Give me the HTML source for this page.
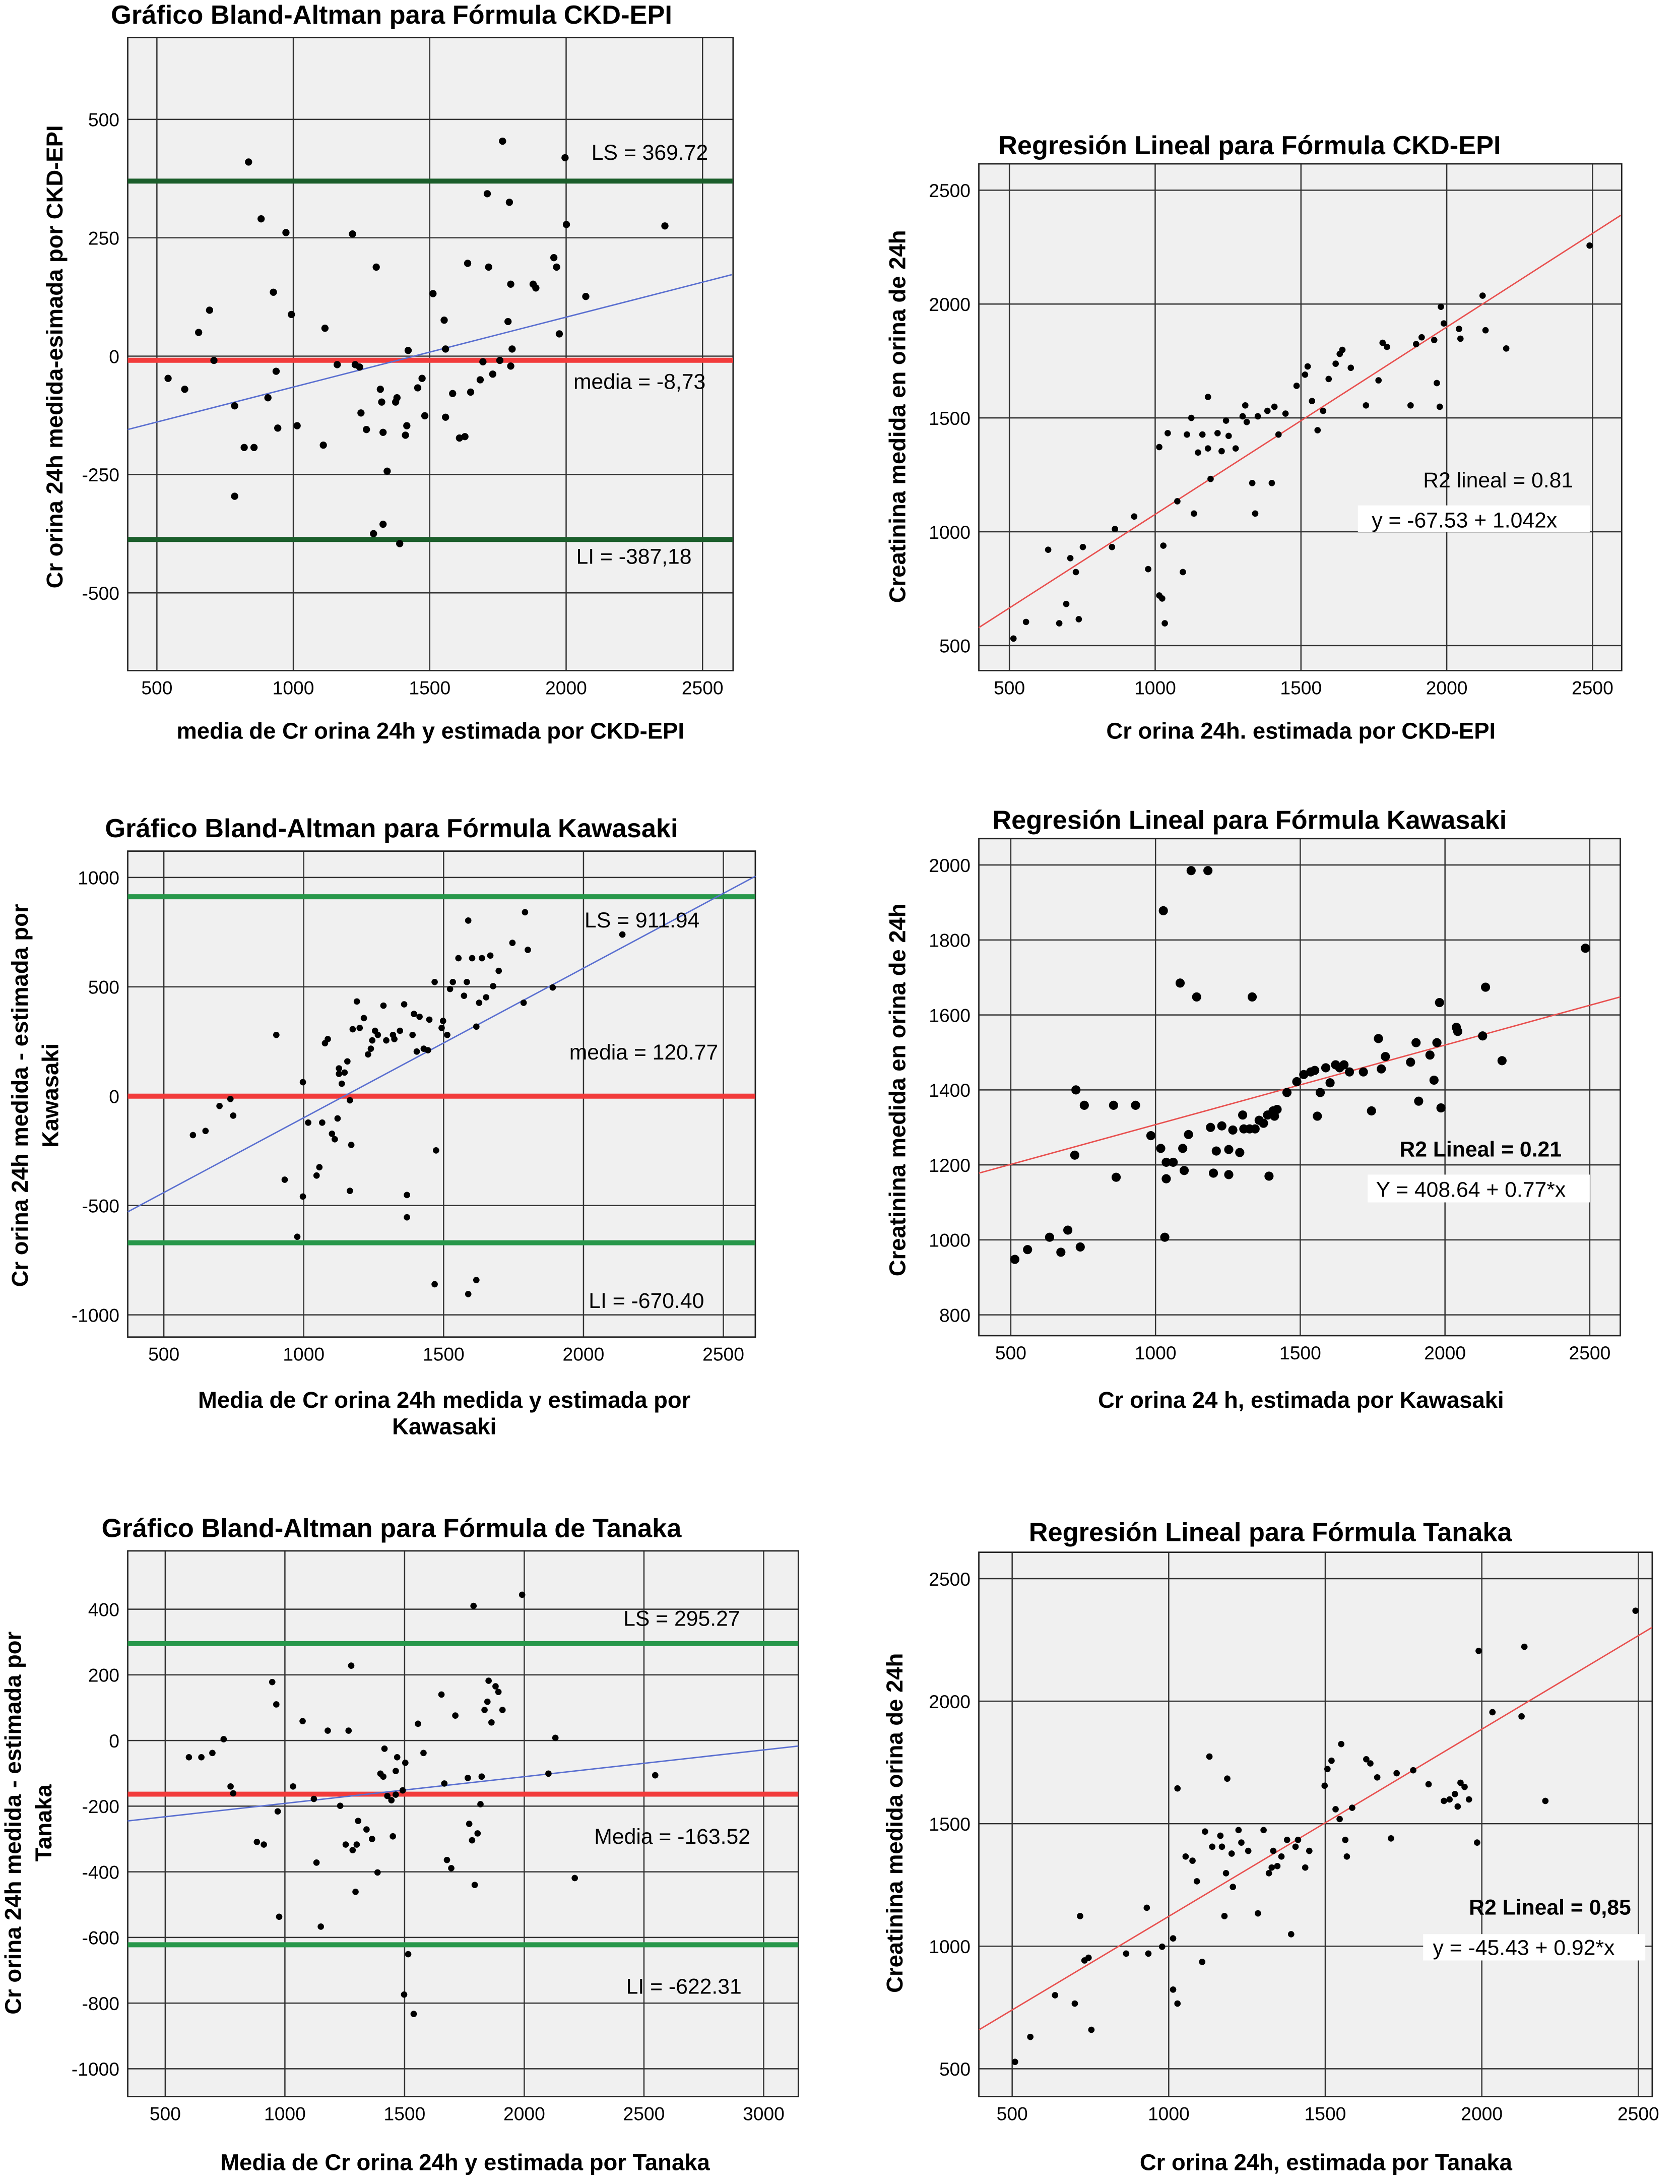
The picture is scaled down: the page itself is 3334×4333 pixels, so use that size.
<!DOCTYPE html>
<html><head><meta charset="utf-8">
<style>
html,body{margin:0;padding:0;background:#fff;}
svg{display:block;}
text{font-family:"Liberation Sans",Arial,sans-serif;fill:#000;}
</style></head>
<body>
<svg id="fig" xmlns="http://www.w3.org/2000/svg" width="3334" height="4333" viewBox="0 0 1210 1573" preserveAspectRatio="none"></svg>
<script>
// ---------- Panel 1: Bland-Altman CKD-EPI ----------
const ckdBaX=[541,602,653,693,709,785,836,820,856,882,907,927,937,943,973,993,1014,785,1110,1116,1217,1227,1243,1248,1268,1304,1319,1324,1294,1329,1344,1329,1375,1380,1390,1411,1416,1421,1456,1472,1482,1512,1553,1558,1558,1584,1609,1629,1639,1650,1685,1695,1711,1716,1731,1767,1792,1797,1797,1802,1879,1889,1955,1965,1975,1996,2001,2072,2362,1787,1757,1161];
const ckdBaY=[-47,-70,50,97,-9,-105,410,-193,-193,290,-88,135,-32,-152,261,88,-147,-296,-188,59,258,-18,-23,-120,-155,188,-70,-97,-375,-161,-243,-355,-97,-88,-396,-167,-147,12,-67,-47,-126,132,76,15,-129,-79,-173,-170,196,-76,-50,-12,343,188,-38,454,325,152,-21,15,152,144,208,188,47,419,278,126,275,73,-9,-18];
const ckdBaRef=[369.72,-8.73,-387.18];
const ckdBaFitX=[393,2607], ckdBaFitY=[-155,172];
const ckdBaXTicks=[500,1000,1500,2000,2500], ckdBaYTicks=[500,250,0,-250,-500];

// ---------- Panel 2: Regression CKD-EPI ----------
const ckdRegX=[514,557,633,671,695,709,728,738,752,852,862,928,976,1014,1024,1028,1033,1014,1043,1076,1095,1109,1124,1133,1147,1162,1181,1181,1190,1214,1228,1243,1252,1276,1300,1309,1314,1333,1343,1352,1385,1400,1409,1423,1447,1485,1514,1523,1538,1557,1576,1595,1619,1633,1642,1671,1723,1766,1780,1795,1876,1895,1914,1957,1966,1976,1980,1990,2042,2047,2123,2133,2204,2490];
const ckdRegY=[531,604,921,598,683,884,823,616,933,933,1012,1067,836,1372,707,939,598,720,1433,1134,823,1427,1500,1080,1348,1427,1592,1366,1232,1433,1354,1488,1421,1366,1507,1555,1482,1214,1080,1507,1531,1214,1549,1427,1519,1641,1690,1726,1574,1446,1531,1671,1738,1781,1799,1720,1555,1665,1830,1812,1555,1824,1854,1842,1653,1549,1988,1915,1891,1848,2037,1885,1805,2257];
const ckdRegFitX=[395,2597], ckdRegFitY=[579,2390];
const ckdRegXTicks=[500,1000,1500,2000,2500], ckdRegYTicks=[2500,2000,1500,1000,500];

// ---------- Panel 3: Bland-Altman Kawasaki ----------
const kawBaX=[604,649,699,738,748,902,932,977,997,997,1016,1046,1056,1066,1076,1086,1101,1111,1121,1126,1126,1136,1146,1156,1165,1165,1170,1175,1190,1200,1215,1230,1240,1245,1255,1265,1285,1295,1319,1324,1344,1359,1369,1369,1389,1394,1404,1414,1429,1444,1449,1468,1473,1493,1498,1513,1523,1533,1553,1573,1583,1588,1602,1617,1627,1637,1652,1667,1677,1697,1746,1786,1791,1801,1890,2139,1468,1617,1588];
const kawBaY=[-178,-159,-45,-13,-89,280,-382,-643,64,-459,-121,-363,-325,-121,242,261,-172,-197,-102,102,127,57,108,159,-433,-19,-223,306,433,312,357,191,217,255,299,280,414,255,280,261,299,420,-452,-554,280,376,204,363,217,210,350,522,-248,312,344,280,490,522,631,459,522,803,631,318,427,631,452,643,503,573,701,427,841,669,497,739,-860,-841,-905];
const kawBaRef=[911.94,0,-670.40];
const kawBaFitX=[371,2615], kawBaFitY=[-529,1006];
const kawBaXTicks=[500,1000,1500,2000,2500], kawBaYTicks=[1000,500,0,-500,-1000];

// ---------- Panel 4: Regression Kawasaki ----------
const kawRegX=[514,558,634,673,697,721,725,740,754,855,864,931,984,1018,1027,1032,1037,1037,1061,1085,1094,1099,1114,1123,1142,1181,1190,1200,1210,1229,1253,1253,1267,1291,1301,1305,1325,1334,1344,1358,1373,1387,1392,1406,1411,1420,1454,1488,1512,1536,1550,1559,1569,1588,1603,1622,1636,1651,1670,1718,1746,1770,1780,1794,1881,1900,1909,1948,1962,1972,1981,1986,2039,2044,2130,2140,2197,2485];
const kawRegY=[948,974,1007,967,1026,1226,1400,981,1359,1359,1167,1359,1278,1244,1878,1007,1163,1207,1207,1685,1244,1185,1281,1985,1648,1985,1300,1178,1237,1304,1174,1241,1293,1233,1333,1296,1296,1648,1296,1319,1311,1333,1170,1344,1330,1348,1393,1422,1441,1448,1452,1330,1393,1459,1419,1467,1459,1467,1448,1448,1344,1537,1456,1489,1474,1526,1370,1493,1426,1526,1633,1352,1567,1556,1544,1674,1478,1778];
const kawRegFitX=[390,2605], kawRegFitY=[1178,1648];
const kawRegXTicks=[500,1000,1500,2000,2500], kawRegYTicks=[2000,1800,1600,1400,1200,1000,800];

// ---------- Panel 5: Bland-Altman Tanaka ----------
const tanBaX=[599,651,697,744,773,784,883,912,947,964,976,970,1034,1074,1121,1132,1150,1179,1231,1254,1266,1277,1283,1295,1300,1306,1341,1364,1387,1399,1411,1416,1428,1445,1451,1463,1463,1469,1492,1498,1503,1515,1538,1556,1579,1654,1666,1677,1695,1712,1764,1770,1782,1788,1805,1817,1822,1834,1846,1851,1863,1880,1892,1909,1991,2101,2130,2211,2547,1793];
const tanBaY=[-51,-51,-38,4,-140,-161,-309,-317,178,110,-537,-216,-140,59,-178,-372,-567,30,-199,-317,30,228,-334,-461,-317,-245,-271,-300,-402,-101,-110,-25,-169,-182,-292,-165,-93,-51,-152,-774,-68,-651,-833,51,-38,140,-131,-364,-389,76,-114,-254,-304,410,-283,-194,-110,93,118,182,55,165,148,93,444,-101,8,-419,-106,-440];
const tanBaRef=[295.27,-163.52,-622.31];
const tanBaFitX=[343,3145], tanBaFitY=[-245,-17];
const tanBaXTicks=[500,1000,1500,2000,2500,3000], tanBaYTicks=[400,200,0,-200,-400,-600,-800,-1000];

// ---------- Panel 6: Regression Tanaka ----------
const tanRegX=[509,558,637,700,717,731,744,753,864,930,935,979,1014,1014,1028,1028,1054,1076,1090,1107,1116,1130,1139,1165,1170,1178,1183,1187,1201,1205,1223,1232,1254,1285,1303,1320,1329,1334,1347,1360,1378,1391,1405,1413,1436,1449,1498,1507,1520,1533,1546,1551,1564,1569,1586,1631,1644,1666,1710,1728,1781,1830,1879,1897,1914,1923,1932,1945,1959,1985,1990,2034,2127,2136,2203,2491];
const tanRegY=[528,630,800,766,1123,942,953,659,970,1157,970,998,1032,823,766,1644,1366,1349,1265,936,1468,1774,1406,1451,1406,1123,1298,1684,1378,1242,1474,1423,1389,1134,1474,1298,1321,1389,1327,1366,1434,1049,1406,1434,1321,1389,1655,1723,1757,1559,1519,1825,1434,1366,1565,1763,1746,1689,1440,1706,1718,1661,1593,1599,1621,1570,1667,1650,1599,1423,2205,1955,1938,2222,1593,2369];
const tanRegFitX=[394,2544], tanRegFitY=[659,2301];
const tanRegXTicks=[500,1000,1500,2000,2500], tanRegYTicks=[2500,2000,1500,1000,500];

const NS="http://www.w3.org/2000/svg";
const svg=document.getElementById('fig');
function mk(tag,attrs,parent){const e=document.createElementNS(NS,tag);for(const k in attrs)e.setAttribute(k,attrs[k]);(parent||svg).appendChild(e);return e;}
function lin(v1,p1,v2,p2){return v=>p1+(v-v1)*(p2-p1)/(v2-v1);}

function panel(c){
  const g=mk('g',{});
  
  
  const sx=lin(c.xm[0],c.xm[1],c.xm[2],c.xm[3]);
  const sy=lin(c.ym[0],c.ym[1],c.ym[2],c.ym[3]);
  const [L,T,R,B]=c.rect;
  const bg=mk('rect',{x:L,y:T,width:R-L,height:B-T,fill:'#f0f0f0',stroke:'none'},g);
  
  
  c.xt.forEach(v=>{
    const gl=mk('line',{x1:sx(v),x2:sx(v),y1:T,y2:B,stroke:'#333','stroke-width':0.9},g);
    
    
    const t=mk('text',{x:sx(v),y:B+17,'text-anchor':'middle','font-size':13.5},g);
    t.textContent=v;
    
    
  });
  c.yt.forEach(v=>{
    const gl=mk('line',{x1:L,x2:R,y1:sy(v),y2:sy(v),stroke:'#333','stroke-width':0.9},g);
    
    
    const t=mk('text',{x:L-6,y:sy(v)+5,'text-anchor':'end','font-size':13.5},g);
    t.textContent=v;
    
    
  });
  const fr=mk('rect',{x:L,y:T,width:R-L,height:B-T,fill:'none',stroke:'#222','stroke-width':1},g);
  
  
  if(c.ref){
    c.ref.forEach((v,i)=>{
      const col=i===1?'#f23b3b':c.green;
      const y=(i===1&&c.meanAt!==undefined)?sy(c.meanAt):sy(v);
      const l=mk('line',{x1:L,x2:R,y1:y,y2:y,stroke:col,'stroke-width':3.6},g);
      
      
    });
  }
  const fl=mk('line',{x1:sx(c.fx[0]),y1:sy(c.fy[0]),x2:sx(c.fx[1]),y2:sy(c.fy[1]),stroke:c.fitCol,'stroke-width':1},g);
  
  
  c.px.forEach((v,i)=>{
    const p=mk('circle',{cx:sx(v),cy:sy(c.py[i]),r:c.r,fill:'#000'},g);
    
    
  });
  (c.boxes||[]).forEach(b=>{
    const r=mk('rect',{x:b[0],y:b[1],width:b[2],height:b[3],fill:'#fff'},g);
    
    
  });
  (c.ann||[]).forEach(a=>{
    const t=mk('text',{x:a[1],y:a[2],'font-size':15.5,'font-weight':a[3]?'bold':'normal'},g);
    t.textContent=a[0];
    
    
  });
  const tt=mk('text',{x:c.title[1],y:c.title[2],'text-anchor':'middle','font-size':19,'font-weight':'bold'},g);
  tt.textContent=c.title[0];
  
  
  c.xl.forEach(a=>{
    const t=mk('text',{x:a[1],y:a[2],'text-anchor':'middle','font-size':16.5,'font-weight':'bold'},g);
    t.textContent=a[0];
    
    
  });
  c.yl.forEach(a=>{
    const t=mk('text',{x:0,y:0,transform:`translate(${a[1]},${a[2]}) rotate(-90)`,'text-anchor':'middle','font-size':16.5,'font-weight':'bold'},g);
    t.textContent=a[0];
    
    
  });
}

panel({name:'bland-altman-ckd-epi',rect:[92,27,528,483],xm:[500,113,2500,506],ym:[500,86,-500,427],
  xt:ckdBaXTicks,yt:ckdBaYTicks,ref:ckdBaRef,green:'#1b5e2b',fx:ckdBaFitX,fy:ckdBaFitY,fitCol:'#5a6fd0',
  px:ckdBaX,py:ckdBaY,r:2.6,
  ann:[['LS = 369.72',426,115],['media = -8,73',413,280],['LI = -387,18',415,406]],
  title:['Gráfico Bland-Altman para Fórmula CKD-EPI',282,17],
  xl:[['media de Cr orina 24h y estimada por CKD-EPI',310,532]],
  yl:[['Cr orina 24h medida-esimada por CKD-EPI',45,257]]});

panel({name:'regression-ckd-epi',rect:[705,118,1168,483],xm:[500,727,2500,1147],ym:[2500,137,500,465],
  xt:ckdRegXTicks,yt:ckdRegYTicks,fx:ckdRegFitX,fy:ckdRegFitY,fitCol:'#e8504f',
  px:ckdRegX,py:ckdRegY,r:2.3,boxes:[[978,364,167,19]],
  ann:[['R2 lineal = 0.81',1025,351],['y = -67.53 + 1.042x',988,380]],
  title:['Regresión Lineal para Fórmula CKD-EPI',900,111],
  xl:[['Cr orina 24h.  estimada por CKD-EPI',937,532]],
  yl:[['Creatinina medida en orina de 24h',652,300]]});

panel({name:'bland-altman-kawasaki',rect:[92,613,544,963],xm:[500,118,2500,521],ym:[1000,632,-1000,947],
  xt:kawBaXTicks,yt:kawBaYTicks,ref:kawBaRef,green:'#27974a',fx:kawBaFitX,fy:kawBaFitY,fitCol:'#5a6fd0',
  px:kawBaX,py:kawBaY,r:2.3,
  ann:[['LS = 911.94',421,668],['media = 120.77',410,763],['LI = -670.40',424,942]],
  title:['Gráfico Bland-Altman para Fórmula Kawasaki',282,603],
  xl:[['Media de Cr orina 24h medida y estimada por',320,1014],['Kawasaki',320,1033]],
  yl:[['Cr orina 24h medida - estimada por',20,789],['Kawasaki',42,789]]});

panel({name:'regression-kawasaki',rect:[705,604,1167,962],xm:[500,728,2500,1145],ym:[2000,623,800,947],
  xt:kawRegXTicks,yt:kawRegYTicks,fx:kawRegFitX,fy:kawRegFitY,fitCol:'#e8504f',
  px:kawRegX,py:kawRegY,r:3.3,boxes:[[985,846,160,20]],
  ann:[['R2 Lineal = 0.21',1008,833,true],['Y = 408.64 + 0.77*x',991,862]],
  title:['Regresión Lineal para Fórmula Kawasaki',900,597],
  xl:[['Cr orina 24 h, estimada por Kawasaki',937,1014]],
  yl:[['Creatinina medida en orina de 24h',652,785]]});

panel({name:'bland-altman-tanaka',rect:[92,1117,575,1510],xm:[500,119,3000,550],ym:[400,1159,-1000,1490],
  xt:tanBaXTicks,yt:tanBaYTicks,ref:tanBaRef,green:'#27974a',fx:tanBaFitX,fy:tanBaFitY,fitCol:'#5a6fd0',
  px:tanBaX,py:tanBaY,r:2.3,
  ann:[['LS = 295.27',449,1171],['Media = -163.52',428,1328],['LI = -622.31',451,1436]],
  title:['Gráfico Bland-Altman para Fórmula de Tanaka',282,1107],
  xl:[['Media de Cr orina 24h y estimada por Tanaka',335,1563]],
  yl:[['Cr orina 24h medida - estimada por',15,1313],['Tanaka',37,1313]]});

panel({name:'regression-tanaka',rect:[705,1118,1190,1510],xm:[500,729,2500,1180],ym:[2500,1137,500,1490],
  xt:tanRegXTicks,yt:tanRegYTicks,fx:tanRegFitX,fy:tanRegFitY,fitCol:'#e8504f',
  px:tanRegX,py:tanRegY,r:2.3,boxes:[[1025,1393,160,19]],
  ann:[['R2 Lineal = 0,85',1058,1379,true],['y = -45.43 + 0.92*x',1032,1408]],
  title:['Regresión Lineal para Fórmula Tanaka',915,1110],
  xl:[['Cr orina 24h, estimada por Tanaka',955,1563]],
  yl:[['Creatinina medida orina de 24h',650,1313]]});
</script>
</body></html>
